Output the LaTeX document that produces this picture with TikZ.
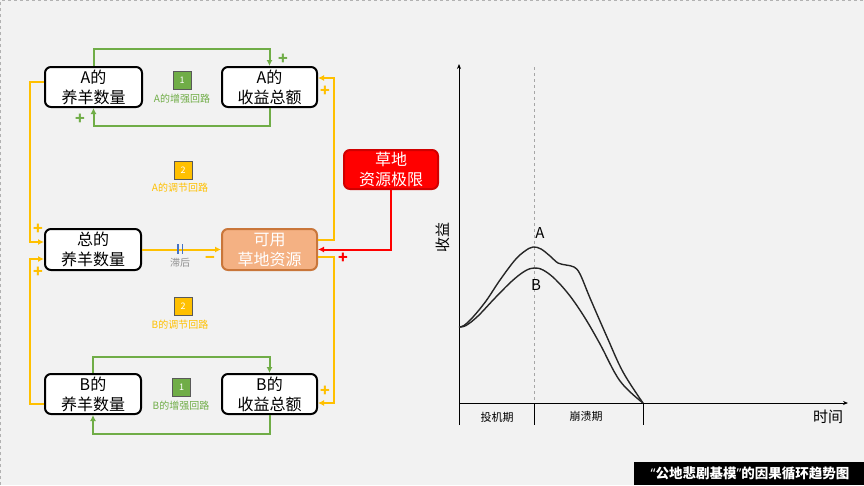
\documentclass[tikz,border=0pt]{standalone}
\usepackage{fontspec}
\setmainfont{Noto Sans CJK SC}
\newfontfamily\latfont{Noto Sans}
\usetikzlibrary{arrows.meta}
\definecolor{bg}{HTML}{F2F2F2}
\definecolor{gr}{HTML}{70AD47}
\definecolor{ye}{HTML}{FFC000}
\definecolor{orf}{HTML}{F4B183}
\definecolor{ord}{HTML}{C9763A}
\definecolor{rd}{HTML}{FF0000}
\definecolor{rdd}{HTML}{D00000}
\definecolor{bl}{HTML}{4472C4}
\definecolor{gy}{HTML}{8C8C8C}
\tikzset{
  box/.style={draw=black, line width=2pt, rounded corners=6pt, fill=white,
    minimum width=96pt, minimum height=40pt, inner sep=0pt, align=center,
    font=\fontsize{16}{20}\selectfont},
  garr/.style={draw=gr, line width=2pt, -{Latex[length=6pt,width=6pt]}},
  yarr/.style={draw=ye, line width=2pt, -{Latex[length=6pt,width=6pt]}},
  rarr/.style={draw=rd, line width=2pt, -{Latex[length=6pt,width=6pt]}},
  sign/.style={font=\fontsize{16}{16}\selectfont\bfseries, inner sep=0pt},
  sq/.style={minimum size=18pt, inner sep=0pt, draw=black!65, line width=0.7pt,
    text=white, font=\fontsize{9}{9}\selectfont},
  small/.style={font=\fontsize{10}{10}\selectfont, inner sep=0pt},
  curve/.style={line width=1.4pt, black!85, line join=round},
}
\begin{document}
\begin{tikzpicture}[x=1pt,y=-1pt]
\useasboundingbox (0,0) rectangle (864,485);
\fill[bg] (0,0) rectangle (864,485);
\draw[gray!60, dashed, line width=1pt] (0.6,485) -- (0.6,0.6) -- (864,0.6);

% boxes
\node[box, minimum width=97pt] (A1) at (93.5,87) {A的\\养羊数量};
\node[box, minimum width=95pt] (A2) at (269.5,87) {A的\\收益总额};
\node[box, minimum height=41pt] (T) at (93,249.5) {总的\\养羊数量};
\node[box, minimum width=95pt, minimum height=41pt, fill=orf, draw=ord, text=white] (K) at (269.5,249.5) {可用\\草地资源};
\node[box, minimum width=94pt, minimum height=39pt, fill=rd, draw=rdd, text=white] (R) at (391,169.5) {草地\\资源极限};
\node[box] (B1) at (93,394) {B的\\养羊数量};
\node[box, minimum width=95pt] (B2) at (269.5,394) {B的\\收益总额};

% green reinforcing loops
\draw[garr] (A1.north) -- ++(0,-17) -| (A2.north);
\draw[garr] (A2.south) -- ++(0,18) -| (A1.south);
\draw[garr] (B1.north) -- ++(0,-16) -| (B2.north);
\draw[garr] (B2.south) -- ++(0,19) -| (B1.south);
\node[sign, text=gr] (pa1) at (283,59) {+};
\node[sign, text=gr] (pa2) at (80,119) {+};

% yellow balancing loops
\draw[yarr] ([yshift=5pt]A1.west) -| ([xshift=-14pt,yshift=7.5pt]T.west) -- ([yshift=7.5pt]T.west);
\draw[yarr] ([yshift=-10pt]B1.west) -| ([xshift=-14pt,yshift=-9.5pt]T.west) -- ([yshift=-9.5pt]T.west);
\draw[yarr] (T.east) -- (K.west);
\draw[yarr] ([yshift=9.5pt]K.east) -| ([xshift=16pt,yshift=9pt]A2.east) -- ([yshift=9pt]A2.east);
\draw[yarr] ([yshift=-7.5pt]K.east) -| ([xshift=16pt,yshift=-9pt]B2.east) -- ([yshift=-9pt]B2.east);
\node[sign, text=ye] (py1) at (38,229) {+};
\node[sign, text=ye] (py2) at (38,272) {+};
\node[sign, text=ye] (py3) at (325,91) {+};
\node[sign, text=ye] (py4) at (325,391) {+};
\node[sign, text=ye] (my1) at (210,260) {\textminus};

% delay mark
\draw[bl, line width=1.8pt] (178,244) -- (178,254) (182.5,244) -- (182.5,254);
\node[small, text=gy] (dl) at (180,263) {滞后};

% red limit
\draw[rarr] (R.south) |- (K.east);
\node[sign, text=rd] (pr) at (343,258) {+};

% loop labels
\node[sq, fill=gr] (s1) at (182,80) {1};
\node[small, text=gr] (l1) at (182,99) {A的增强回路};
\node[sq, fill=ye] (s2) at (183,170) {2};
\node[small, text=ye] (l2) at (180,188) {A的调节回路};
\node[sq, fill=ye] (s3) at (183,306.5) {2};
\node[small, text=ye] (l3) at (180,325) {B的调节回路};
\node[sq, fill=gr] (s4) at (181.5,387) {1};
\node[small, text=gr] (l4) at (181,406) {B的增强回路};

% chart
\draw[gray!70, dashed, line width=0.8pt] (534,67) -- (534,403);
\draw[line width=1pt, -{Stealth[length=5pt,width=4pt]}] (459,425) -- (459,64);
\draw[line width=1pt, -{Stealth[length=5pt,width=4pt]}] (459,403) -- (848,403);
\draw[line width=1pt] (534,403) -- (534,425) (643,403) -- (643,425);
\node[font=\fontsize{11}{11}\selectfont, inner sep=0pt] (c1) at (497,417) {投机期};
\node[font=\fontsize{11}{11}\selectfont, inner sep=0pt] (c2) at (586,416) {崩溃期};
\node[font=\fontsize{15}{15}\selectfont, inner sep=0pt] (c3) at (828,417) {时间};
\node[font=\fontsize{15}{15}\selectfont, inner sep=0pt, rotate=90] (c4) at (443,237) {收益};
\node[font=\fontsize{15}{15}\selectfont, inner sep=0pt] (ca) at (540,233) {A};
\node[font=\fontsize{15}{15}\selectfont, inner sep=0pt] (cb) at (536,285) {B};
\draw[curve] plot[smooth, tension=0.6] coordinates {(459,327) (464,325.5) (473,317) (486,301) (500,280) (515,260) (525,251) (533,247) (541,249) (550,256) (558,263) (566,265) (574,267) (580,274) (590,298) (607,337) (623,372) (643,403)};
\draw[curve] plot[smooth, tension=0.6] coordinates {(459,327) (466,325.5) (478,316) (495,298) (512,281) (525,271) (534,268) (543,270) (555,279) (570,296) (585,318) (600,344) (620,381) (643,403)};

% caption
\fill[black] (634,462) rectangle (864,485);
\node[text=white, font=\fontsize{13.5}{13.5}\selectfont\bfseries, inner sep=0pt] (cap) at (750,473.5) {{\latfont\bfseries “}公地悲剧基模{\latfont\bfseries ”}的因果循环趋势图};
\end{tikzpicture}
\end{document}
